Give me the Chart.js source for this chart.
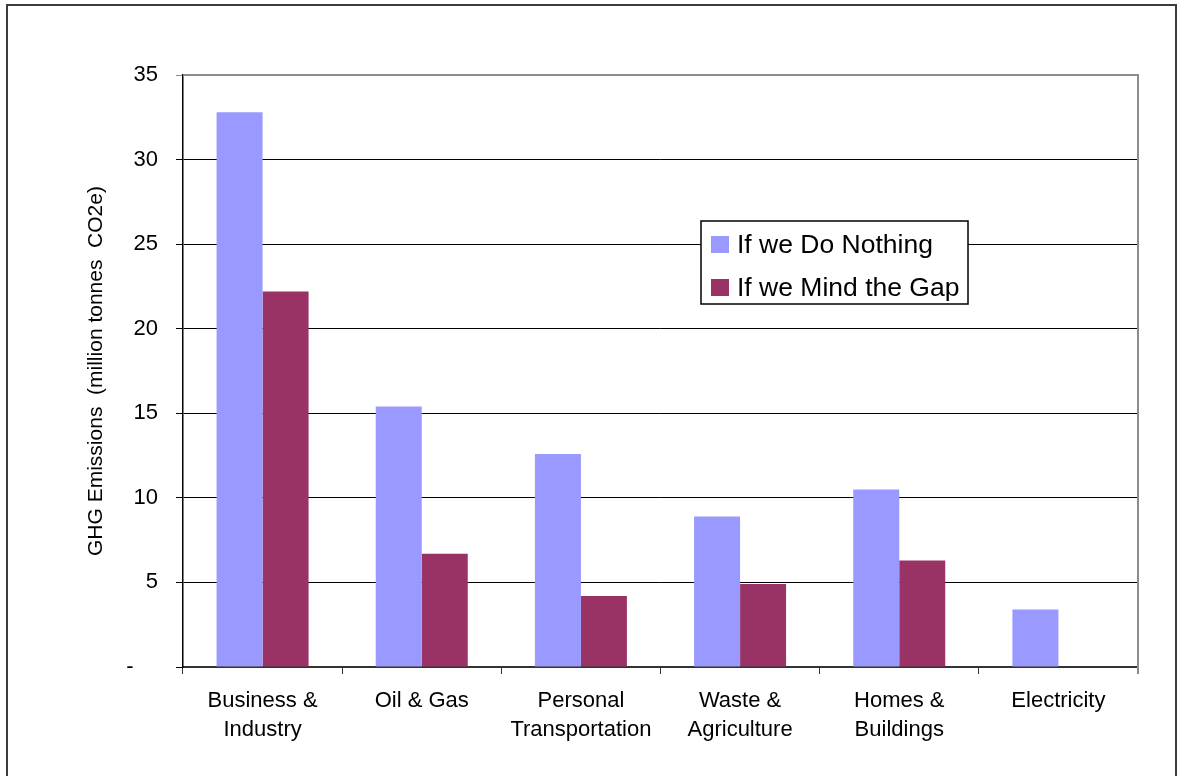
<!DOCTYPE html>
<html lang="en">
<head>
  <meta charset="UTF-8" />
  <title>GHG Emissions by Sector</title>
  <script src="https://cdn.jsdelivr.net/npm/chart.js"></script>
  <style>
    html, body { margin: 0; padding: 0; background: #fff; }
    canvas { display: block; }
  </style>
</head>
<body>
  <canvas id="ghgChart" width="1186" height="776"></canvas>

  <script>
    const sectors = [
      ['Business &', 'Industry'],
      'Oil & Gas',
      ['Personal', 'Transportation'],
      ['Waste &', 'Agriculture'],
      ['Homes &', 'Buildings'],
      'Electricity'
    ];
    const doNothing = [32.8, 15.4, 12.6, 8.9, 10.5, 3.4];
    const mindTheGap = [22.2, 6.7, 4.2, 4.9, 6.3, 0];
    const seriesNames = ['If we Do Nothing', 'If we Mind the Gap'];
    const yTicks = [0, 5, 10, 15, 20, 25, 30, 35];

    const font = "'Liberation Sans', Arial, sans-serif";

    // outer frame, grey plot border on top/right, and the boxed legend
    const decorations = {
      id: 'decorations',
      beforeDraw(chart) {
        const ctx = chart.ctx;
        ctx.save();
        ctx.strokeStyle = '#3c3c3c';
        ctx.lineWidth = 2;
        ctx.strokeRect(7, 5, 1169, 820);
        ctx.restore();
      },
      afterDatasetsDraw(chart) {
        const ctx = chart.ctx;
        const a = chart.chartArea;
        ctx.save();
        ctx.strokeStyle = '#8c8c8c';
        ctx.lineWidth = 2;
        ctx.beginPath();
        ctx.moveTo(a.left, a.top);
        ctx.lineTo(a.right, a.top);
        ctx.lineTo(a.right, a.bottom + 7);
        ctx.stroke();
        ctx.restore();
      },
      afterDraw(chart) {
        const ctx = chart.ctx;
        const box = { x: 701, y: 221, w: 267, h: 83 };
        ctx.save();
        ctx.fillStyle = '#fff';
        ctx.fillRect(box.x, box.y, box.w, box.h);
        ctx.strokeStyle = '#000';
        ctx.lineWidth = 1.5;
        ctx.strokeRect(box.x, box.y, box.w, box.h);
        ctx.font = '26.5px ' + font;
        ctx.textBaseline = 'middle';
        chart.data.datasets.forEach((ds, i) => {
          const cy = box.y + 24 + i * 43;
          ctx.fillStyle = ds.backgroundColor;
          ctx.fillRect(box.x + 10, cy - 9, 18, 17);
          ctx.fillStyle = '#000';
          ctx.fillText(ds.label, box.x + 36, cy + 1);
        });
        ctx.restore();
      }
    };

    new Chart(document.getElementById('ghgChart'), {
      type: 'bar',
      data: {
        labels: sectors,
        datasets: [
          { label: seriesNames[0], data: doNothing, backgroundColor: '#9999ff' },
          { label: seriesNames[1], data: mindTheGap, backgroundColor: '#993366' }
        ]
      },
      options: {
        responsive: false,
        animation: false,
        layout: { padding: { left: 0, top: 75, right: 48, bottom: 0 } },
        datasets: {
          bar: { categoryPercentage: 0.578, barPercentage: 1, borderWidth: 0 }
        },
        plugins: {
          legend: { display: false },
          tooltip: { enabled: false }
        },
        scales: {
          x: {
            afterFit(scale) { scale.height = 109; },
            grid: {
              offset: true,
              drawOnChartArea: false,
              tickLength: 7,
              color: '#333'
            },
            border: { color: '#333', width: 2 },
            ticks: {
              color: '#000',
              padding: 12,
              maxRotation: 0,
              autoSkip: false,
              font: { family: font, size: 22, lineHeight: 1.32 }
            }
          },
          y: {
            min: 0,
            max: 35,
            afterFit(scale) { scale.width = 183; },
            afterBuildTicks(scale) { scale.ticks = yTicks.map(v => ({ value: v })); },
            grid: {
              tickLength: 7,
              color: ctx => (ctx.tick && ctx.tick.value === 35 ? '#8c8c8c' : '#000')
            },
            border: { color: '#000', width: 1.5 },
            ticks: {
              color: '#000',
              padding: 18,
              font: { family: font, size: 22 },
              callback: v => (v === 0 ? '-    ' : v)
            },
            title: {
              display: true,
              text: 'GHG Emissions  (million tonnes  CO2e)',
              color: '#000',
              padding: { top: 84 },
              font: { family: font, size: 21 }
            }
          }
        }
      },
      plugins: [decorations]
    });
  </script>
</body>
</html>
